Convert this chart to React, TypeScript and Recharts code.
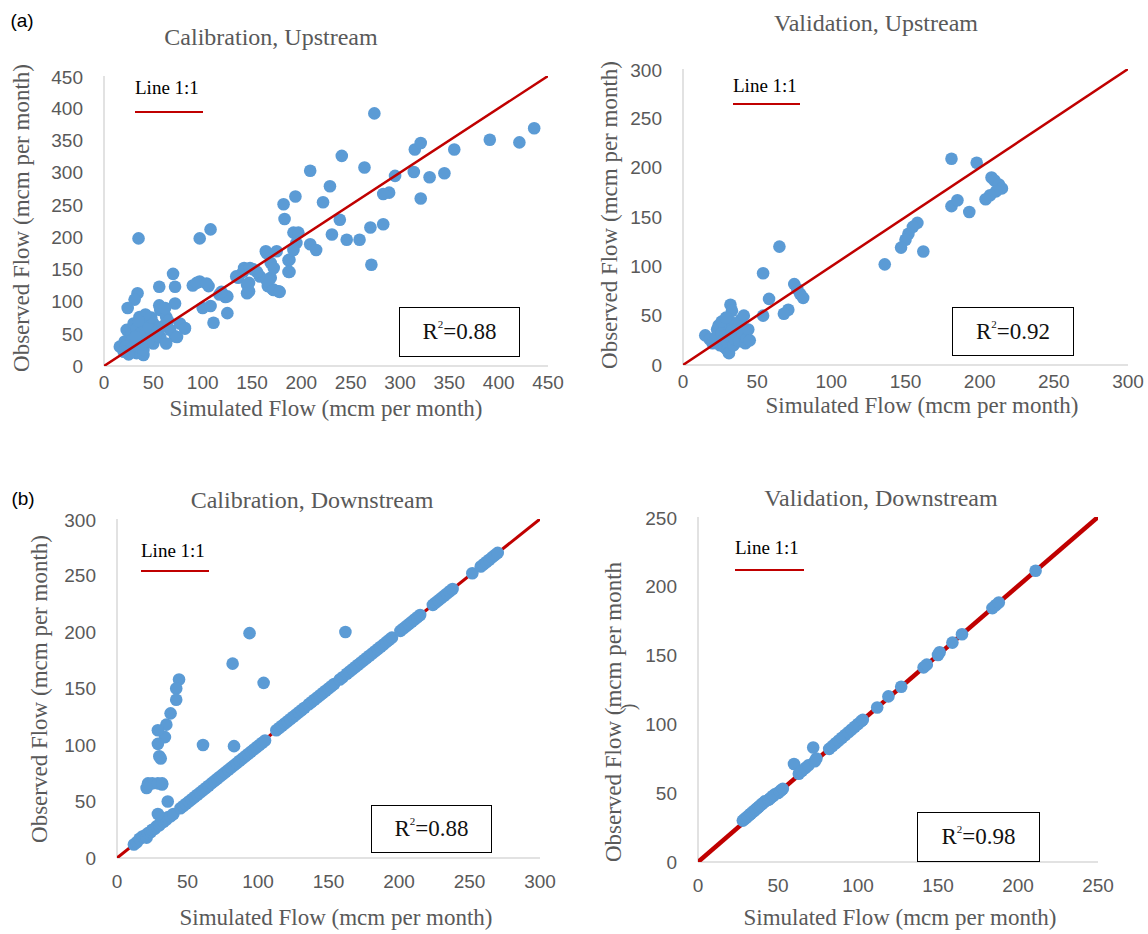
import React from 'react';
import { ScatterChart, Scatter, XAxis, YAxis } from 'recharts';

// Calibration, Upstream
const calUpSim = [274, 436, 391, 421, 355, 315, 321, 314, 345, 330, 321, 295, 289, 283, 264, 241, 209, 229, 222, 194, 182, 183, 239, 231, 246, 259, 270, 283, 271, 192, 197, 209, 215, 195, 188, 188, 164, 169, 175, 158, 151, 136, 142, 147, 147, 166, 171, 177, 169, 108, 97, 35, 90, 97, 106, 117, 125, 125, 111, 100, 108, 70, 72, 72, 72, 82, 56, 56, 34, 31, 24, 94, 104, 123, 119, 134, 141, 148, 145, 145, 155, 165, 172, 165, 172, 178, 187, 187, 192, 16, 23, 30, 36, 43, 50, 57, 63, 67, 77, 82, 74, 43, 50, 36, 30, 26, 33, 40, 26, 21, 47, 36, 57, 63, 28, 33, 38, 40, 45, 30, 35, 40, 45, 52, 28, 22, 25, 38, 55, 60, 65, 48, 42, 35, 32, 20, 62];
const calUpObs = [392, 369, 351, 347, 336, 336, 346, 301, 299, 293, 260, 295, 269, 267, 308, 326, 303, 279, 254, 263, 251, 228, 227, 204, 196, 196, 215, 220, 157, 207, 207, 189, 180, 191, 165, 146, 178, 160, 178, 139, 150, 137, 152, 129, 116, 124, 119, 116, 137, 212, 198, 198, 125, 131, 124, 111, 108, 82, 67, 90, 93, 143, 123, 97, 46, 59, 123, 94, 113, 103, 90, 129, 128, 107, 115, 139, 146, 152, 126, 113, 146, 175, 152, 133, 118, 115, 164, 146, 180, 30, 56, 66, 76, 71, 66, 87, 76, 56, 66, 58, 45, 45, 35, 40, 35, 45, 20, 17, 25, 38, 56, 61, 45, 35, 50, 58, 52, 65, 60, 28, 30, 25, 38, 48, 40, 30, 18, 33, 55, 62, 70, 75, 80, 70, 45, 22, 90];

// Validation, Upstream
const valUpSim = [181, 198, 208, 210, 213, 215, 211, 207, 204, 181, 185, 193, 158, 155, 152, 150, 147, 162, 136, 65, 54, 58, 54, 75, 77, 79, 81, 71, 68, 15, 18, 20, 22, 23, 24, 25, 26, 27, 28, 28, 29, 30, 30, 31, 32, 32, 32, 33, 34, 35, 36, 37, 38, 39, 40, 41, 42, 43, 44, 45, 33, 26, 29];
const valUpObs = [209, 205, 190, 187, 183, 179, 176, 172, 168, 161, 167, 155, 144, 140, 133, 127, 119, 115, 102, 120, 93, 67, 50, 82, 77, 72, 68, 56, 52, 30, 26, 22, 28, 36, 40, 20, 32, 25, 38, 18, 30, 22, 15, 12, 28, 44, 61, 35, 20, 26, 30, 38, 24, 46, 32, 50, 22, 27, 36, 25, 55, 44, 48];

// Calibration, Downstream
const calDownSim = [12, 14, 16, 18, 20, 21, 22, 24, 25, 27, 28, 30, 31, 33, 35, 36, 38, 40, 45, 47, 49, 51, 53, 55, 57, 59, 61, 63, 65, 67, 69, 71, 73, 75, 77, 79, 81, 83, 85, 87, 89, 91, 93, 95, 97, 99, 101, 103, 105, 113, 115, 117, 119, 121, 123, 125, 127, 129, 131, 133, 136, 138, 140, 142, 144, 146, 148, 150, 152, 154, 158, 160, 163, 165, 167, 169, 171, 173, 175, 177, 179, 181, 183, 185, 187, 189, 191, 193, 195, 201, 203, 205, 207, 209, 211, 213, 215, 224, 226, 228, 230, 232, 234, 236, 238, 252, 258, 260, 262, 264, 266, 268, 270, 94, 162, 82, 104, 61, 83, 44, 42, 42, 38, 35, 34, 29, 29, 30, 31, 32, 22, 25, 29, 32, 36, 29, 21, 48];
const calDownObs = [12, 14, 17, 19, 20, 18, 22, 23, 25, 26, 28, 29, 31, 32, 34, 36, 37, 39, 44, 46, 48, 50, 52, 54, 56, 58, 60, 62, 64, 66, 68, 70, 72, 74, 76, 78, 80, 82, 84, 86, 88, 90, 92, 94, 96, 98, 100, 102, 104, 113, 115, 117, 119, 121, 123, 125, 127, 129, 131, 133, 136, 138, 140, 142, 144, 146, 148, 150, 152, 154, 158, 160, 163, 165, 167, 169, 171, 173, 175, 177, 179, 181, 183, 185, 187, 189, 191, 193, 195, 201, 203, 205, 207, 209, 211, 213, 215, 224, 226, 228, 230, 232, 234, 236, 238, 252, 258, 260, 262, 264, 266, 268, 270, 199, 200, 172, 155, 100, 99, 158, 150, 140, 128, 118, 107, 113, 101, 90, 88, 65, 66, 66, 66, 66, 50, 39, 62];

// Validation, Downstream
const valDownSim = [28, 29, 30, 31, 32, 33, 34, 35, 36, 37, 38, 39, 40, 41, 42, 44, 45, 46, 47, 48, 50, 51, 52, 53, 60, 63, 65, 67, 69, 72, 73, 74, 82, 84, 86, 88, 90, 92, 94, 96, 98, 100, 102, 103, 112, 119, 127, 141, 143, 150, 151, 159, 165, 184, 186, 188, 211];
const valDownObs = [30, 31, 32, 33, 34, 35, 36, 37, 38, 39, 40, 41, 42, 43, 44, 45, 46, 47, 48, 49, 50, 51, 52, 53, 71, 64, 66, 68, 70, 83, 73, 75, 82, 84, 86, 88, 90, 92, 94, 96, 98, 100, 102, 103, 112, 120, 127, 141, 143, 150, 152, 159, 165, 184, 186, 188, 211];

const ticks450 = [0, 50, 100, 150, 200, 250, 300, 350, 400, 450];
const ticks300 = [0, 50, 100, 150, 200, 250, 300];
const ticks250 = [0, 50, 100, 150, 200, 250];

const zip = (xs: number[], ys: number[]) => xs.map((x, i) => ({ x, y: ys[i] }));

const serif = '"Liberation Serif", "Times New Roman", serif';
const sans = '"Liberation Sans", Arial, sans-serif';
const gray = '#595959';
const dotBlue = '#5b9bd5';
const lineRed = '#c00000';

type PanelProps = {
  x0: number; y0: number; x1: number; y1: number;
  max: number; ticks: number[];
  sim: number[]; obs: number[];
  lineWidth: number; lineOnTop: boolean; xTickGap: number;
};

const Dot = (props: any) => <circle cx={props.cx} cy={props.cy} r={6.3} fill={dotBlue} />;
const NoDot = () => <g />;

const Panel = ({ x0, y0, x1, y1, max, ticks, sim, obs, lineWidth, lineOnTop, xTickGap }: PanelProps) => {
  const yW = 60, mT = 10, mR = 30, xH = 45;
  const data = zip(sim, obs);
  const lineData = [{ x: 0, y: 0 }, { x: max, y: max }];
  const lineSeries = (
    <Scatter key="line" data={lineData} line={{ stroke: lineRed, strokeWidth: lineWidth }} shape={NoDot} isAnimationActive={false} />
  );
  const dots = <Scatter key="dots" data={data} shape={Dot} isAnimationActive={false} />;
  return (
    <div style={{ position: 'absolute', left: x0 - yW, top: y0 - mT }}>
      <ScatterChart width={x1 - x0 + yW + mR} height={y1 - y0 + mT + xH} margin={{ top: mT, right: mR, bottom: 0, left: 0 }}>
        <XAxis type="number" dataKey="x" domain={[0, max]} ticks={ticks} height={xH}
          axisLine={{ stroke: '#d9d9d9', strokeWidth: 1.5 }} tickLine={false} tickMargin={xTickGap}
          tick={{ fill: gray, fontSize: 19, fontFamily: sans }} allowDataOverflow />
        <YAxis type="number" dataKey="y" domain={[0, max]} ticks={ticks} width={yW}
          axisLine={{ stroke: '#d9d9d9', strokeWidth: 1.5 }} tickLine={false} tickMargin={15}
          tick={{ fill: gray, fontSize: 19, fontFamily: sans }} allowDataOverflow />
        {lineOnTop ? [dots, lineSeries] : [lineSeries, dots]}
      </ScatterChart>
    </div>
  );
};

const Txt = ({ x, y, size, children, color = gray, font = serif, rotate = false }: any) => (
  <div style={{
    position: 'absolute', left: x, top: y, fontSize: size, fontFamily: font, color, whiteSpace: 'nowrap',
    transform: `translate(-50%, -50%)${rotate ? ' rotate(-90deg)' : ''}`, lineHeight: 1,
  }}>{children}</div>
);

const LegendLine = ({ x, y, lineY, w }: any) => (
  <>
    <div style={{ position: 'absolute', left: x, top: y, fontSize: 19, fontFamily: serif, color: '#000', lineHeight: 1, whiteSpace: 'nowrap' }}>Line 1:1</div>
    <div style={{ position: 'absolute', left: x, top: lineY, width: w, height: 2, background: lineRed }} />
  </>
);

const RBox = ({ x, y, w, h, value }: any) => (
  <div style={{
    position: 'absolute', left: x, top: y, width: w, height: h, boxSizing: 'border-box', border: '1.5px solid #000',
    background: '#fff', display: 'flex', alignItems: 'center', justifyContent: 'center',
    fontFamily: serif, fontSize: 23, color: '#111',
  }}>
    <span>R<sup style={{ fontSize: 11, verticalAlign: 'top', position: 'relative', top: -1 }}>2</sup>={value}</span>
  </div>
);

export default function App() {
  return (
    <div style={{ position: 'absolute', left: 0, top: 0, width: 1148, height: 934, background: '#fff', overflow: 'hidden' }}>
      <Txt x={22} y={20} size={19} font={sans} color="#000">(a)</Txt>
      <Txt x={23} y={498} size={19} font={sans} color="#000">(b)</Txt>

      <Panel x0={104} y0={76} x1={548} y1={366} max={450} ticks={ticks450} sim={calUpSim} obs={calUpObs} lineWidth={2.5} lineOnTop xTickGap={4} />
      <Panel x0={683} y0={69} x1={1128} y1={365} max={300} ticks={ticks300} sim={valUpSim} obs={valUpObs} lineWidth={2.5} lineOnTop xTickGap={4} />
      <Panel x0={117} y0={519} x1={540} y1={858} max={300} ticks={ticks300} sim={calDownSim} obs={calDownObs} lineWidth={3} lineOnTop={false} xTickGap={11} />
      <Panel x0={698} y0={517} x1={1098} y1={862} max={250} ticks={ticks250} sim={valDownSim} obs={valDownObs} lineWidth={4.5} lineOnTop={false} xTickGap={11} />

      <Txt x={271} y={37} size={24}>Calibration, Upstream</Txt>
      <Txt x={876} y={23} size={24}>Validation, Upstream</Txt>
      <Txt x={312} y={500} size={24}>Calibration, Downstream</Txt>
      <Txt x={881} y={498} size={24}>Validation, Downstream</Txt>

      <Txt x={326} y={408} size={23}>Simulated Flow (mcm per month)</Txt>
      <Txt x={922} y={405} size={23}>Simulated Flow (mcm per month)</Txt>
      <Txt x={336} y={917} size={23}>Simulated Flow (mcm per month)</Txt>
      <Txt x={900} y={917} size={23}>Simulated Flow (mcm per month)</Txt>

      <Txt x={21} y={218} size={23} rotate>Observed Flow (mcm per month)</Txt>
      <Txt x={609} y={215} size={23} rotate>Observed Flow (mcm per month)</Txt>
      <Txt x={39} y={689} size={23} rotate>Observed Flow (mcm per month)</Txt>
      <Txt x={613} y={712} size={23} rotate>Observed Flow (mcm per month</Txt>
      <Txt x={628} y={707} size={20} rotate>)</Txt>

      <LegendLine x={135} y={78} lineY={111} w={68} />
      <LegendLine x={733} y={76} lineY={103} w={67} />
      <LegendLine x={141} y={541} lineY={570} w={68} />
      <LegendLine x={735} y={538} lineY={569} w={69} />

      <RBox x={399} y={307} w={121} h={50} value="0.88" />
      <RBox x={952} y={307} w={122} h={49} value="0.92" />
      <RBox x={371} y={805} w={121} h={48} value="0.88" />
      <RBox x={917} y={812} w={123} h={50} value="0.98" />
    </div>
  );
}
